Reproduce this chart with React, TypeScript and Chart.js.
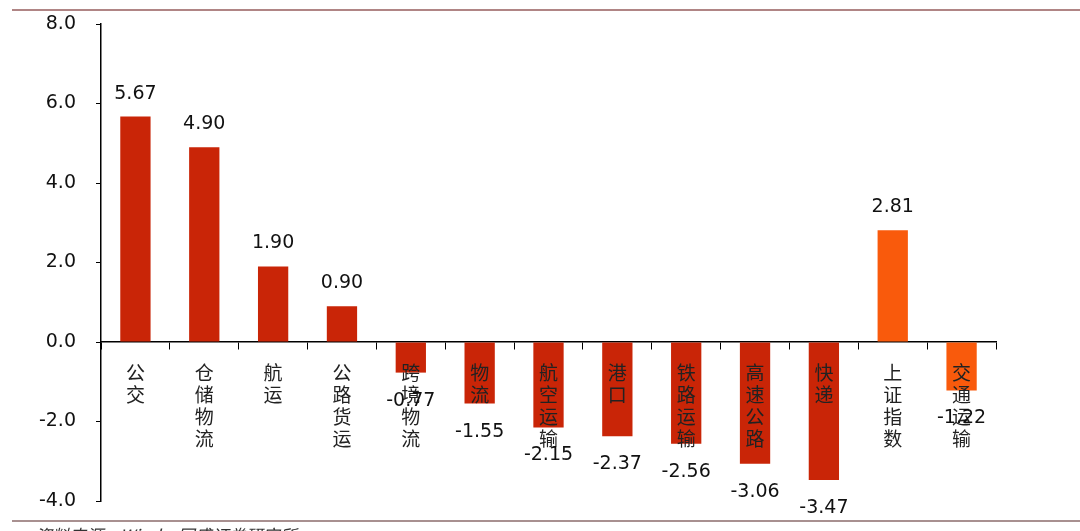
import React, { useEffect, useRef } from "react";
import { Chart, registerables } from "chart.js";

Chart.register(...registerables);

const categories = ["公交", "仓储物流", "航运", "公路货运", "跨境物流", "物流", "航空运输", "港口", "铁路运输", "高速公路", "快递", "上证指数", "交通运输"];
const values = [5.67, 4.9, 1.9, 0.9, -0.77, -1.55, -2.15, -2.37, -2.56, -3.06, -3.47, 2.81, -1.22];
const barColors = ["#C92507", "#C92507", "#C92507", "#C92507", "#C92507", "#C92507", "#C92507", "#C92507", "#C92507", "#C92507", "#C92507", "#F95A0C", "#F95A0C"];
const yTicks = { min: -4, max: 8, step: 2 };
const sourceText = "资料来源：Wind，国盛证券研究所";

const numFont = '"DejaVu Sans", Verdana, sans-serif';
const cjkFont = '"Noto Sans CJK SC", sans-serif';

const OFF = 16; // canvas is shifted up by this many pixels
const CANVAS_H = 557;

const decorPlugin = {
  id: "decor",
  afterDraw(chart: any) {
    const ctx = chart.ctx;
    const meta = chart.getDatasetMeta(0);
    ctx.save();
    ctx.font = `19px ${numFont}`;
    ctx.fillStyle = "#111";
    ctx.textAlign = "center";
    ctx.textBaseline = "middle";
    meta.data.forEach((bar: any, i: number) => {
      const v = values[i];
      const y = v >= 0 ? bar.y - 23 : bar.y + 28;
      ctx.fillText(v.toFixed(2), bar.x, y);
    });
    ctx.strokeStyle = "#B08585";
    ctx.lineWidth = 2;
    ctx.beginPath();
    ctx.moveTo(12, 10 + OFF);
    ctx.lineTo(chart.width, 10 + OFF);
    ctx.stroke();
    ctx.strokeStyle = "#A89090";
    ctx.beginPath();
    ctx.moveTo(12, 521 + OFF);
    ctx.lineTo(chart.width, 521 + OFF);
    ctx.stroke();
    ctx.font = `italic 17px ${cjkFont}`;
    ctx.fillStyle = "#333";
    ctx.textAlign = "left";
    ctx.textBaseline = "top";
    ctx.fillText(sourceText, 35, 527 + OFF);
    ctx.restore();
  },
};

export default function App() {
  const ref = useRef<HTMLCanvasElement | null>(null);
  useEffect(() => {
    document.body.style.margin = "0";
    const chart = new Chart(ref.current as HTMLCanvasElement, {
      type: "bar",
      data: {
        labels: categories.map((c) => c.split("")),
        datasets: [
          {
            data: values,
            backgroundColor: barColors,
            borderWidth: 0,
            barPercentage: 0.44,
            categoryPercentage: 1,
          },
        ],
      },
      options: {
        animation: false,
        responsive: false,
        devicePixelRatio: 1,
        layout: { autoPadding: false, padding: { top: 40, right: 84, bottom: 40, left: 0 } },
        plugins: { legend: { display: false }, tooltip: { enabled: false } },
        scales: {
          x: {
            position: { y: 0 } as any,
            offset: true,
            grid: { display: true, drawOnChartArea: false, drawTicks: true, tickLength: 7, color: "#000", offset: true },
            border: { display: true, color: "#000", width: 1.5 },
            ticks: {
              z: 1,
              color: "#222",
              padding: 13,
              maxRotation: 0,
              autoSkip: false,
              font: { family: cjkFont, size: 19, lineHeight: 1.16 },
            },
            afterFit: (s: any) => {
              s.height = 0;
            },
          },
          y: {
            min: yTicks.min,
            max: yTicks.max,
            grid: { display: true, drawOnChartArea: false, drawTicks: true, tickLength: 5, color: "#000" },
            border: { display: true, color: "#000", width: 1.5 },
            ticks: {
              stepSize: yTicks.step,
              color: "#111",
              padding: 20,
              font: { family: numFont, size: 19 },
              callback: (v: any) => Number(v).toFixed(1),
            },
            afterFit: (s: any) => {
              s.width = 101;
            },
          },
        },
      },
      plugins: [decorPlugin],
    });
    return () => chart.destroy();
  }, []);
  return (
    <div style={{ width: 1080, height: 531, background: "#fff", overflow: "hidden", position: "relative" }}>
      <canvas ref={ref} width={1080} height={CANVAS_H} style={{ display: "block", position: "absolute", left: 0, top: -OFF }} />
    </div>
  );
}
